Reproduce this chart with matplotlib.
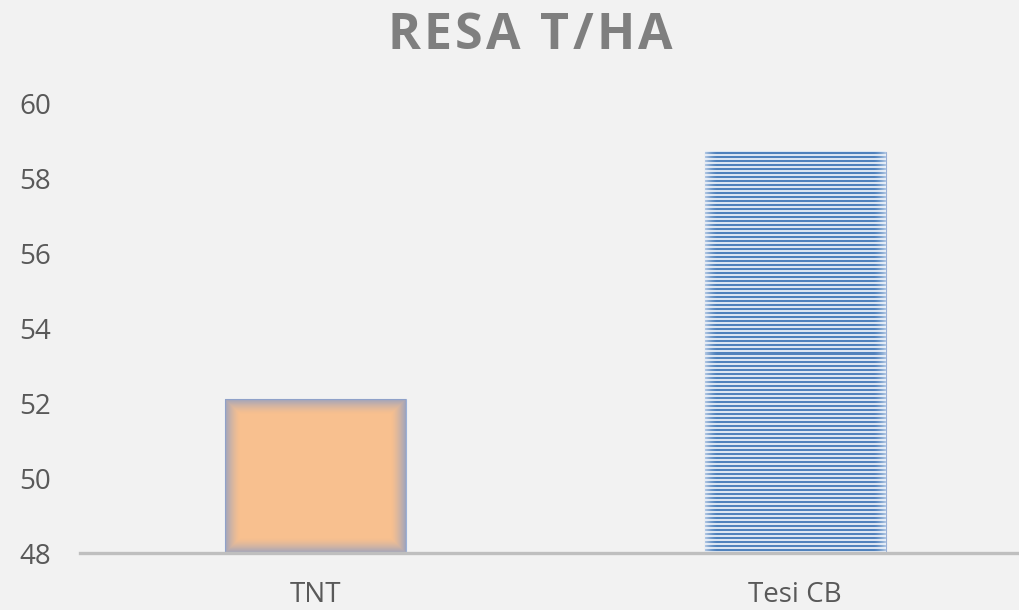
import matplotlib
matplotlib.use('Agg')
import matplotlib.pyplot as plt
import numpy as np

categories = ['TNT', 'Tesi CB']
values = [52.1, 58.7]
yticks = [48, 50, 52, 54, 56, 58, 60]
title = 'RESA T/HA'

bg = '#f2f2f2'
plt.rcParams['font.family'] = ['Open Sans', 'DejaVu Sans']

fig = plt.figure(figsize=(10.2, 6.1), dpi=100, facecolor=bg)
ax = fig.add_axes([80 / 1020, 57 / 610, 960 / 1020, 450 / 610], facecolor=bg)

x = np.arange(len(categories))
width = 0.377
xlim = (-0.49, 1.51)
ax.set_xlim(*xlim)
ax.set_ylim(48, 60)

ax.bar(x[0], values[0] - 48, width, bottom=48, color='#f8c08f',
       edgecolor='#9bb0d6', linewidth=0.8, zorder=2)
ax.bar(x[1], values[1] - 48, width, bottom=48, color='#dae4f1',
       edgecolor='#9bb0d6', linewidth=0.8, zorder=2)


def bar_pixels(xc, top):
    x0, x1 = xc - width / 2, xc + width / 2
    p0 = ax.transData.transform((x0, 48))
    p1 = ax.transData.transform((x1, top))
    wpx, hpx = int(round(abs(p1[0] - p0[0]))), int(round(abs(p1[1] - p0[1])))
    cols = np.arange(wpx)
    rows = np.arange(hpx)
    dx = np.minimum(cols, wpx - 1 - cols)[None, :] * np.ones((hpx, 1))
    dy = np.minimum(rows, hpx - 1 - rows)[:, None] * np.ones((1, wpx))
    return (x0, x1, 48, top), rows, dx, dy


# soft bluish shadow inside the peach bar
ext, rows, dx, dy = bar_pixels(x[0], values[0])
d = np.minimum(dx, dy)
img = np.zeros(d.shape + (4,))
img[..., :3] = (0.55, 0.62, 0.78)
img[..., 3] = 0.8 * np.clip(1 - d / 15, 0, 1) ** 1.5
ax.imshow(img, extent=ext, aspect='auto', interpolation='bilinear', zorder=3)

# horizontal stripes in the blue bar, lighter towards the sides
ext, rows, dx, dy = bar_pixels(x[1], values[1])
blue = np.array([0.31, 0.506, 0.741])
light = np.array([0.86, 0.90, 0.95])
stripe = ((rows % 4) >= 1) & ((rows % 4) <= 2)
img = np.where(stripe[:, None, None], blue, light) * np.ones(dx.shape + (3,))
fade = (0.6 * np.clip(1 - dx / 12, 0, 1) ** 1.5)[..., None]
img = img * (1 - fade) + np.array([0.93, 0.95, 0.98]) * fade
ax.imshow(img, extent=ext, aspect='auto', interpolation='nearest', zorder=3)

ax.set_xlim(*xlim)
ax.set_ylim(48, 60)
ax.set_xticks(x)
ax.set_xticklabels(categories)
ax.set_yticks(yticks)
ax.tick_params(length=0, labelsize=20, labelcolor='#595959')
ax.tick_params(axis='x', pad=20)
ax.tick_params(axis='y', pad=21)

for s in ['top', 'right', 'left']:
    ax.spines[s].set_visible(False)
ax.spines['bottom'].set_color('#bfbfbf')
ax.spines['bottom'].set_linewidth(2.4)
ax.spines['bottom'].set_zorder(4)

# title with extra letter spacing
renderer = fig.canvas.get_renderer()
tkw = dict(fontsize=36, fontweight='bold', color='#7f7f7f', va='baseline')


def text_w(s):
    t = fig.text(0, 0, s, **tkw)
    w = t.get_window_extent(renderer).width
    t.remove()
    return w


track = 3.4
full = text_w(title) + track * (len(title) - 1)
x0 = 530 - full / 2
for i, ch in enumerate(title):
    if ch == ' ':
        continue
    left = x0 + text_w(title[:i + 1]) - text_w(ch) + track * i
    fig.text(left / 1020, 561 / 610, ch, ha='left', **tkw)

fig.savefig('out.png', dpi=100, facecolor=bg)
